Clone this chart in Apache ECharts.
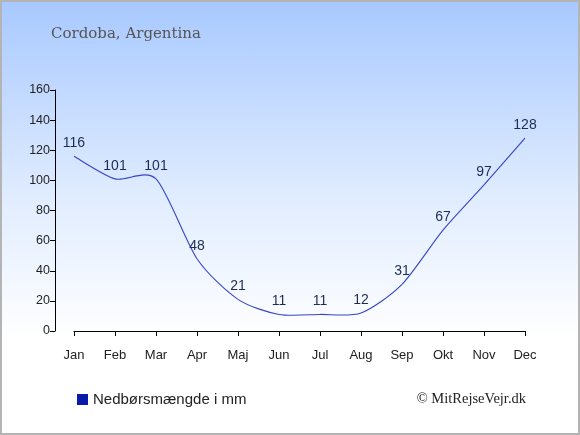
<!DOCTYPE html>
<html><head><meta charset="utf-8">
<script src="https://cdn.jsdelivr.net/npm/echarts@6/dist/echarts.min.js"></script>
<style>
html,body{margin:0;padding:0;}
#c{width:580px;height:435px;box-sizing:border-box;border:2px solid #b4b4b4;
background:linear-gradient(to bottom,#a8c9ff 0%,#e0ecff 45%,#ffffff 78%,#ffffff 100%);}
</style></head><body>
<div id="c"></div>
<script>
var months = ['Jan','Feb','Mar','Apr','Maj','Jun','Jul','Aug','Sep','Okt','Nov','Dec'];
var precipitation = [116,101,101,48,21,11,11,12,31,67,97,128];
var yTicks = [0,20,40,60,80,100,120,140,160];
var chart = echarts.init(document.getElementById('c'), null, {renderer:'canvas'});

function renderCurve(params, api) {
  var i = params.dataIndex;
  var n = precipitation.length;
  if (i >= n - 1) return null;
  function pt(k) { k = Math.max(0, Math.min(n - 1, k)); return api.coord([k, precipitation[k]]); }
  var p0 = pt(i - 1), p1 = pt(i), p2 = pt(i + 1), p3 = pt(i + 2);
  var t = 0.13;
  return {
    type: 'bezierCurve',
    shape: {
      x1: p1[0], y1: p1[1], x2: p2[0], y2: p2[1],
      cpx1: p1[0] + (p2[0] - p0[0]) * t, cpy1: p1[1] + (p2[1] - p0[1]) * t,
      cpx2: p2[0] - (p3[0] - p1[0]) * t, cpy2: p2[1] - (p3[1] - p1[1]) * t
    },
    style: { stroke: '#3545c8', lineWidth: 1.1, fill: null }
  };
}

chart.setOption({
  backgroundColor:'transparent',
  animation:false,
  title:[{text:'Cordoba, Argentina',left:49,top:25,padding:0,textStyle:{fontFamily:'DejaVu Serif',fontSize:15,fontWeight:'normal',color:'#555555'}},
         {text:'© MitRejseVejr.dk',right:52,top:390,padding:0,textStyle:{fontFamily:'Liberation Serif',fontSize:14.5,fontWeight:'normal',color:'#222222'}}],
  legend:{left:75,top:390,padding:0,itemWidth:11,itemHeight:11,itemGap:6,icon:'rect',
    textStyle:{fontFamily:'Liberation Sans',fontSize:15,color:'#222222'},
    data:[{name:'Nedbørsmængde i mm',itemStyle:{color:'#0a1aa8',opacity:1}}]},
  grid:{left:72,right:53,top:88,bottom:102},
  xAxis:{type:'category',data:months,boundaryGap:false,offset:10,
    axisLine:{lineStyle:{color:'#000',width:1}},
    axisTick:{length:5,lineStyle:{color:'#000'}},
    axisLabel:{fontFamily:'Liberation Sans',fontSize:13,color:'#222',margin:8},
    splitLine:{show:false}},
  yAxis:{type:'value',min:yTicks[0],max:yTicks[yTicks.length-1],interval:20,offset:19,
    axisLine:{show:true,lineStyle:{color:'#000',width:1}},
    axisTick:{show:true,length:5,lineStyle:{color:'#000'}},
    axisLabel:{fontFamily:'Liberation Sans',fontSize:12.5,color:'#222',margin:5},
    splitLine:{show:false}},
  series:[
    {name:'Nedbørsmængde i mm',type:'line',data:precipitation,
      symbol:'circle',symbolSize:2,showSymbol:true,showAllSymbol:true,
      lineStyle:{width:0,opacity:0},itemStyle:{color:'rgba(0,0,0,0)',borderWidth:0},
      labelLayout:{hideOverlap:false},
      label:{show:true,position:'top',distance:5,fontFamily:'Liberation Sans',fontSize:14,color:'#1c2c54'}},
    {name:'curve',type:'custom',renderItem:renderCurve,
      data:precipitation.map(function(v,k){return [k,v];}),
      encode:{x:0,y:1},silent:true,z:3}
  ]
});
</script></body></html>
